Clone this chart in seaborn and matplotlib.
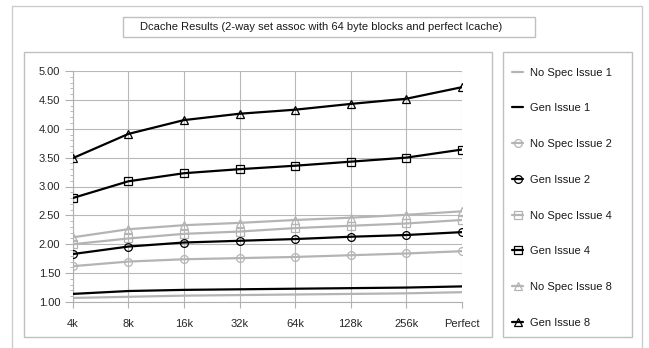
import matplotlib
matplotlib.use("Agg")
import matplotlib.pyplot as plt
from matplotlib.patches import Rectangle
from matplotlib.ticker import MultipleLocator, FormatStrFormatter
import pandas as pd
import seaborn as sns

# Cache sizes on the x axis
cache_sizes = ["4k", "8k", "16k", "32k", "64k", "128k", "256k", "Perfect"]

# IPC per configuration
no_spec_issue_1 = [1.07, 1.09, 1.11, 1.12, 1.13, 1.14, 1.15, 1.17]
gen_issue_1 = [1.14, 1.19, 1.21, 1.22, 1.23, 1.24, 1.25, 1.27]
no_spec_issue_2 = [1.62, 1.70, 1.74, 1.76, 1.78, 1.81, 1.84, 1.88]
gen_issue_2 = [1.83, 1.96, 2.03, 2.06, 2.09, 2.13, 2.16, 2.21]
no_spec_issue_4 = [2.00, 2.10, 2.18, 2.22, 2.28, 2.32, 2.36, 2.42]
gen_issue_4 = [2.80, 3.09, 3.23, 3.30, 3.36, 3.43, 3.50, 3.64]
no_spec_issue_8 = [2.12, 2.26, 2.33, 2.37, 2.42, 2.46, 2.51, 2.57]
gen_issue_8 = [3.49, 3.91, 4.15, 4.26, 4.33, 4.43, 4.52, 4.72]

series_names = ["No Spec Issue 1", "Gen Issue 1", "No Spec Issue 2", "Gen Issue 2",
                "No Spec Issue 4", "Gen Issue 4", "No Spec Issue 8", "Gen Issue 8"]
series_values = [no_spec_issue_1, gen_issue_1, no_spec_issue_2, gen_issue_2,
                 no_spec_issue_4, gen_issue_4, no_spec_issue_8, gen_issue_8]

GRAY = "#b4b4b4"
BLACK = "#000000"
styles = {
    "No Spec Issue 1": dict(color=GRAY, marker=None),
    "Gen Issue 1": dict(color=BLACK, marker=None),
    "No Spec Issue 2": dict(color=GRAY, marker="o"),
    "Gen Issue 2": dict(color=BLACK, marker="o"),
    "No Spec Issue 4": dict(color=GRAY, marker="s"),
    "Gen Issue 4": dict(color=BLACK, marker="s"),
    "No Spec Issue 8": dict(color=GRAY, marker="^"),
    "Gen Issue 8": dict(color=BLACK, marker="^"),
}

rows = []
for name, vals in zip(series_names, series_values):
    for i, v in enumerate(vals):
        rows.append({"series": name, "pos": i, "size": cache_sizes[i], "ipc": v})
df = pd.DataFrame(rows)

sns.set_theme(style="white")
plt.rcParams["font.family"] = ["Liberation Sans", "DejaVu Sans"]
plt.rcParams["text.color"] = "#1a1a1a"

W, H = 649, 348
fig = plt.figure(figsize=(W / 100, H / 100), dpi=100)
fig.patch.set_facecolor("white")


def px_rect(x0, y0, x1, y1, ec, lw=1.0):
    """Rectangle in pixel coordinates measured from the top-left corner."""
    r = Rectangle((x0 / W, 1 - y1 / H), (x1 - x0) / W, (y1 - y0) / H,
                  transform=fig.transFigure, fill=False, ec=ec, lw=lw, zorder=0)
    fig.patches.append(r)


# Outer chart frame, plot frame, legend frame and title frame
px_rect(12, 6, 642, 360, "#cccccc")
px_rect(24, 52, 492, 337, "#c0c0c0")
px_rect(503, 52, 632, 337, "#c0c0c0")
px_rect(123, 17, 535, 37, "#c0c0c0")
fig.text(321 / W, 1 - 27.5 / H, "Dcache Results (2-way set assoc with 64 byte blocks and perfect Icache)",
         ha="center", va="center", fontsize=8)

ax_l, ax_r, ax_t, ax_b = 72.7, 462, 71, 302
ax = fig.add_axes([ax_l / W, 1 - ax_b / H, (ax_r - ax_l) / W, (ax_b - ax_t) / H])
ax.set_facecolor("white")

handles = []
for name in series_names:
    st = styles[name]
    sub = df[df["series"] == name]
    sns.lineplot(data=sub, x="pos", y="ipc", ax=ax, color=st["color"], lw=1.6,
                 marker=st["marker"] if st["marker"] else None,
                 markersize=6.2 if st["marker"] == "^" else 5.6,
                 markerfacecolor="none", markeredgecolor=st["color"], markeredgewidth=0.9,
                 legend=False, zorder=3)
    line = ax.lines[-1]
    line.set_clip_on(True)
    handles.append(line)

ax.set_xlim(0, len(cache_sizes) - 1)
ax.set_ylim(1.0, 5.0)
ax.set_xticks(range(len(cache_sizes)))
ax.set_xticklabels(cache_sizes)
ax.yaxis.set_major_locator(MultipleLocator(0.5))
ax.yaxis.set_minor_locator(MultipleLocator(0.1))
ax.yaxis.set_major_formatter(FormatStrFormatter("%.2f"))
ax.set_xlabel("")
ax.set_ylabel("")
ax.grid(True, which="major", color="#b8b8b8", lw=0.8)
for side in ["top", "right"]:
    ax.spines[side].set_visible(False)
for side in ["left", "bottom"]:
    ax.spines[side].set_color("#b0b0b0")
    ax.spines[side].set_linewidth(0.8)
ax.tick_params(axis="y", which="major", direction="out", length=6, width=0.8,
               color="#b0b0b0", labelsize=8, pad=3, left=True)
ax.tick_params(axis="y", which="minor", direction="out", length=2.5, width=0.6,
               color="#b0b0b0", left=True)
ax.tick_params(axis="x", which="major", direction="out", length=4.5, width=0.8,
               color="#b0b0b0", labelsize=8, pad=7.5, bottom=True)

leg = fig.legend(handles, series_names, loc="upper left",
                 bbox_to_anchor=(512 / W, 1 - 67.5 / H), frameon=False,
                 fontsize=8, handlelength=1.0, handletextpad=0.6,
                 labelspacing=2.32, borderaxespad=0, borderpad=0)

fig.savefig("out.png", dpi=100, facecolor="white")
